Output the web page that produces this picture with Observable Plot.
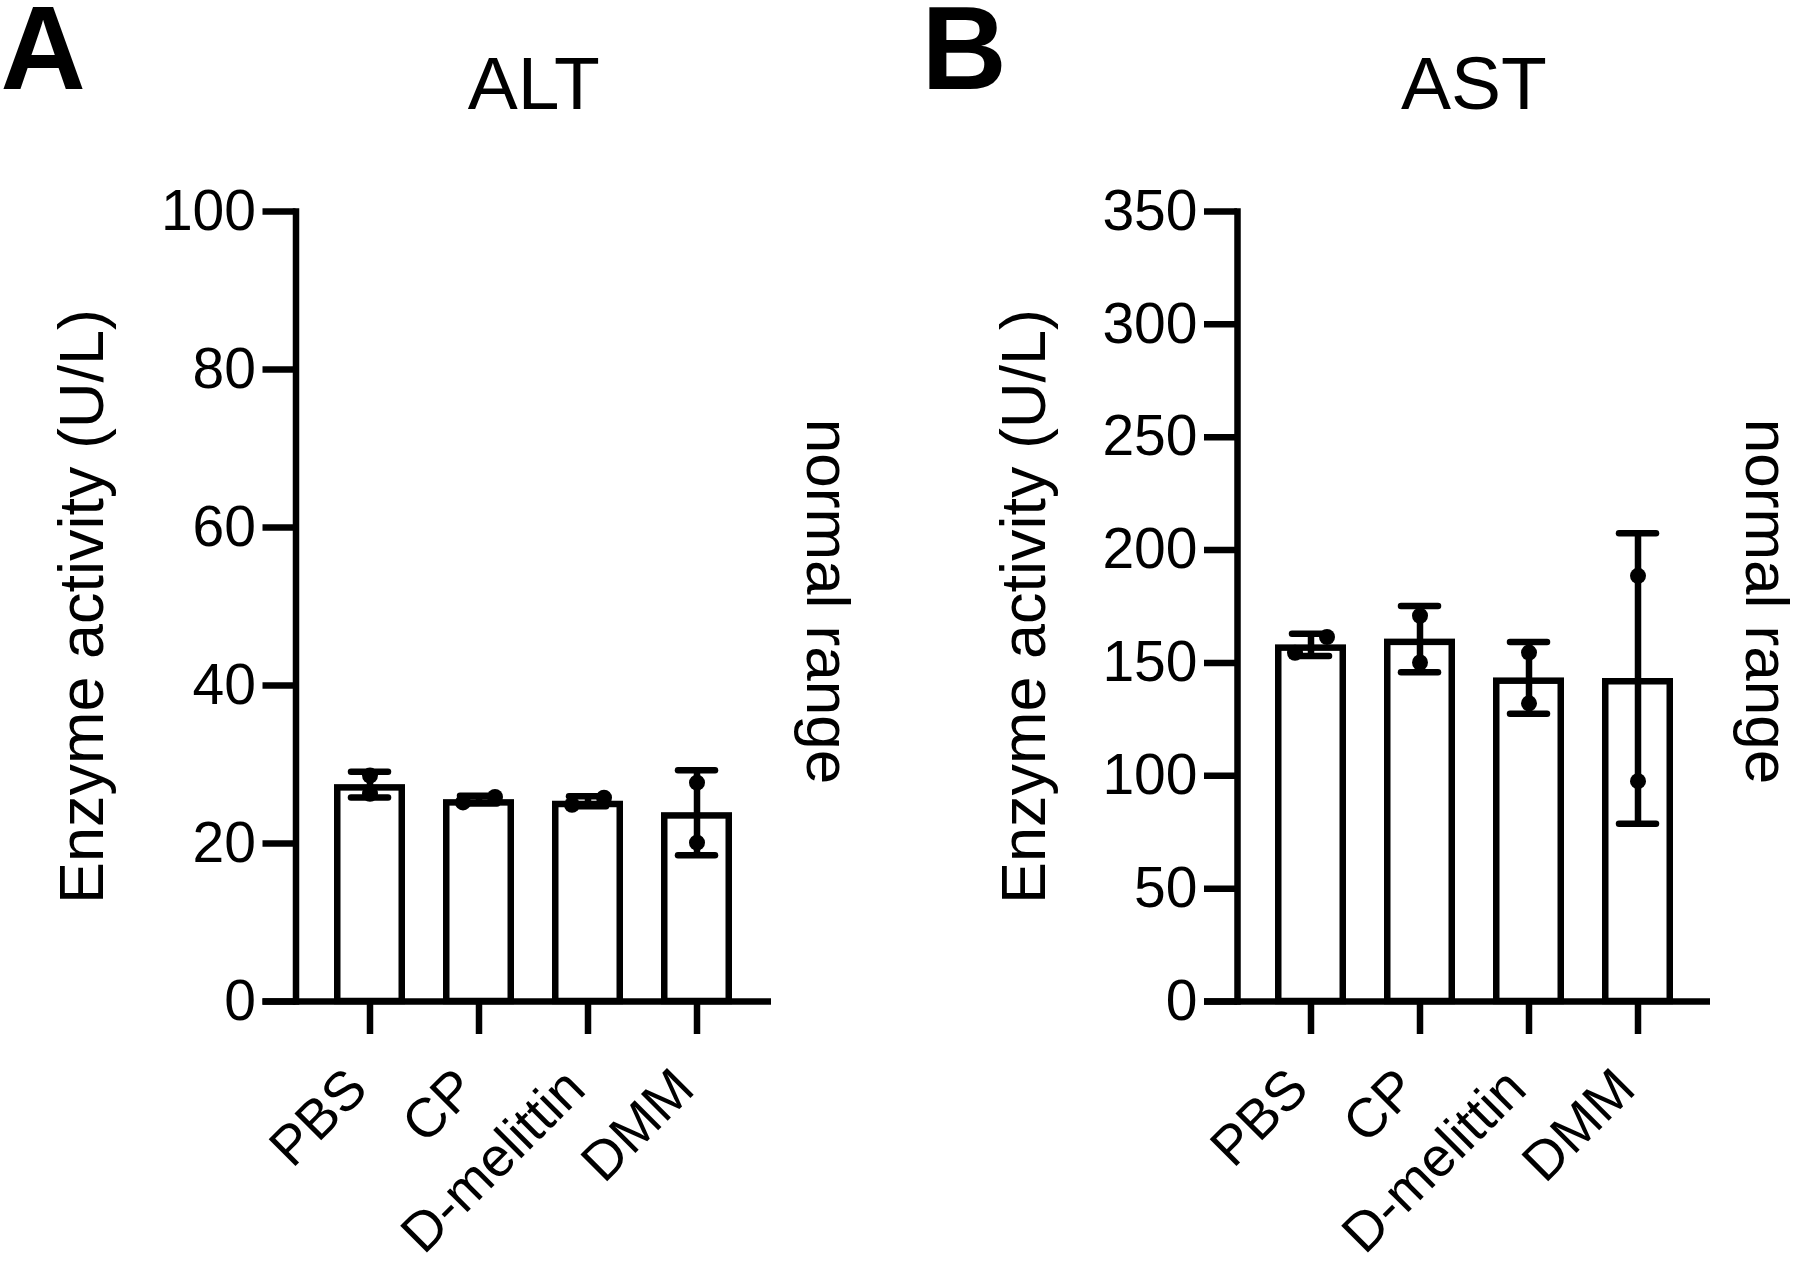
<!DOCTYPE html>
<html>
<head>
<meta charset="utf-8">
<script src="https://cdn.jsdelivr.net/npm/d3@7"></script>
<script src="https://cdn.jsdelivr.net/npm/@observablehq/plot@0.6"></script>
<style>
  html, body { margin: 0; padding: 0; background: #fff; }
  #wrap { position: relative; width: 1800px; height: 1268px; overflow: hidden; background: #fff; }
  #wrap > svg, #wrap > figure { position: absolute; top: 0; margin: 0; }
</style>
</head>
<body>
<div id="wrap"></div>
<script>
// ---- data ----
const groups = ["PBS", "CP", "D-melittin", "DMM"];
const altReplicates = [[26.3, 28.6], [25.2, 25.9], [24.9, 25.8], [20.1, 27.7]];
const astReplicates = [[154.5, 161.5], [150.2, 170.9], [132.1, 154.6], [97.6, 188.6]];
const altTicks = [0, 20, 40, 60, 80, 100];
const astTicks = [0, 50, 100, 150, 200, 250, 300, 350];
const yLabel = "Enzyme activity (U/L)";
const rightLabel = "normal range";

const panels = [
  {letter: "A", title: "ALT", reps: altReplicates, ticks: altTicks, left: 0, marginLeft: 295.5, marginRight: 129},
  {letter: "B", title: "AST", reps: astReplicates, ticks: astTicks, left: 900, marginLeft: 337, marginRight: 90}
];

const LW = 6.5;
const FONT = "'Liberation Sans', Arial, Helvetica, sans-serif";

function buildPanel(p) {
  const ymax = d3.max(p.ticks);
  const summary = p.reps.map((vals, i) => {
    const m = d3.mean(vals), sd = d3.deviation(vals);
    return {group: groups[i], mean: m, lo: m - sd, hi: m + sd};
  });
  const pts = [];
  p.reps.forEach((vals, i) => {
    const close = Math.abs(vals[1] - vals[0]) / ymax < 0.022;
    const lo = d3.min(vals);
    vals.forEach(v => pts.push({group: groups[i], value: v, side: close ? (v === lo ? -1 : 1) : 0}));
  });
  const dotMarks = [-1, 0, 1].map(s =>
    Plot.dot(pts.filter(d => d.side === s), {x: "group", y: "value", r: 8, fill: "black", stroke: "none", dx: s * 16})
  );
  const chart = Plot.plot({
    width: 900,
    height: 1268,
    marginLeft: p.marginLeft,
    marginRight: p.marginRight,
    marginTop: 211,
    marginBottom: 267,
    x: {domain: groups, paddingInner: 0.353, paddingOuter: 0.344},
    y: {domain: [0, ymax]},
    style: {fontFamily: FONT, color: "black", background: "white", overflow: "visible"},
    marks: [
      Plot.barY(summary, {x: "group", y: "mean", fill: "white", stroke: "black", strokeWidth: LW,
        insetTop: LW / 2, insetLeft: LW / 2, insetRight: LW / 2}),
      Plot.ruleX(summary, {x: "group", y1: "lo", y2: "hi", stroke: "black", strokeWidth: LW}),
      Plot.tickY(summary, {x: "group", y: "hi", stroke: "black", strokeWidth: LW, strokeLinecap: "round", insetLeft: 17, insetRight: 17}),
      Plot.tickY(summary, {x: "group", y: "lo", stroke: "black", strokeWidth: LW, strokeLinecap: "round", insetLeft: 17, insetRight: 17}),
      ...dotMarks,
      Plot.ruleY([0], {stroke: "black", strokeWidth: LW, insetLeft: -33}),
      Plot.frame({anchor: "left", stroke: "black", strokeWidth: LW, strokeLinecap: "square"}),
      Plot.axisY({ticks: p.ticks, tickSize: 33, tickPadding: 7, fontSize: 57, strokeWidth: LW, label: null}),
      Plot.axisX({tickSize: 33, strokeWidth: LW, fill: "none", label: null}),
      Plot.text(groups, {x: d => d, text: d => d, frameAnchor: "bottom", rotate: -45, textAnchor: "end",
        lineAnchor: "bottom", dy: 90, fontSize: 55}),
      Plot.text([yLabel], {frameAnchor: "left", rotate: -90, textAnchor: "middle", lineAnchor: "bottom",
        dx: -193, fontSize: 63}),
      Plot.text([rightLabel], {frameAnchor: "right", rotate: 90, textAnchor: "middle", lineAnchor: "bottom",
        dx: 35, dy: -5, fontSize: 62}),
      Plot.text([p.title], {frameAnchor: "top", textAnchor: "middle", lineAnchor: "bottom", dy: -103, fontSize: 75}),
      Plot.text([p.letter], {frameAnchor: "top-left", textAnchor: "start", lineAnchor: "bottom",
        dx: -p.marginLeft + (p.letter === "A" ? 0 : 21), dy: -123, fontSize: 118, fontWeight: "bold"})
    ]
  });
  chart.style.left = p.left + "px";
  return chart;
}

const wrap = document.getElementById("wrap");
panels.forEach(p => wrap.appendChild(buildPanel(p)));
</script>
</body>
</html>
